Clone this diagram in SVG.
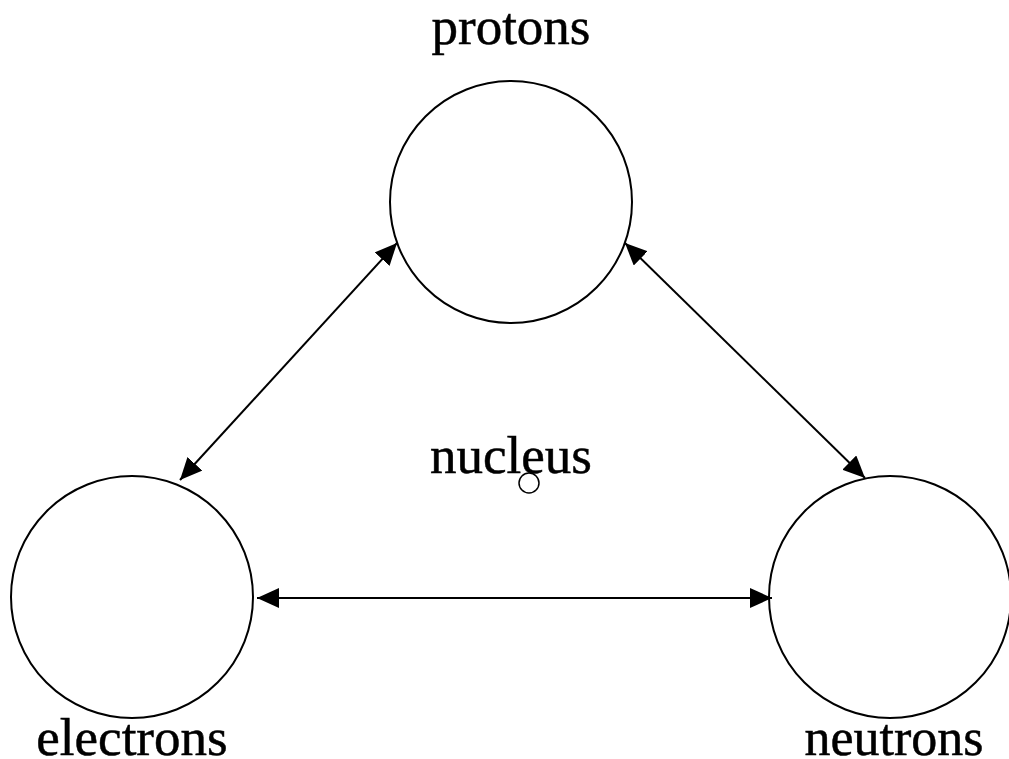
<svg xmlns="http://www.w3.org/2000/svg" width="1009" height="759" viewBox="0 0 1009 759">
<style>
.node{fill:none;stroke:#000;stroke-width:2}
.lbl{font-family:"Liberation Serif","Times New Roman",serif;font-size:53px;fill:#000;stroke:#000;stroke-width:0.5;text-anchor:middle}
.conn{stroke:#000;stroke-width:2;fill:none;marker-start:url(#ah);marker-end:url(#ah)}
</style>
<defs>
<marker id="ah" markerUnits="userSpaceOnUse" markerWidth="24" markerHeight="22" refX="22" refY="10" orient="auto-start-reverse">
<path d="M0,0 L22,10 L0,20 z" fill="#000"/>
</marker>
</defs>
<rect width="1009" height="759" fill="#fff"/>
<g id="protons">
<circle class="node" cx="511" cy="202" r="121"/>
<text class="lbl" x="511" y="44">protons</text>
</g>
<g id="electrons">
<circle class="node" cx="132" cy="597" r="121"/>
<text class="lbl" x="132" y="755">electrons</text>
</g>
<g id="neutrons">
<circle class="node" cx="890" cy="597" r="121"/>
<text class="lbl" x="894" y="755" style="font-size:52px">neutrons</text>
</g>
<g id="nucleus">
<text class="lbl" x="511" y="473">nucleus</text>
<circle cx="529" cy="483" r="10" fill="none" stroke="#000" stroke-width="1.5"/>
</g>
<g id="connectors">
<line class="conn" x1="397" y1="243" x2="180" y2="480"/>
<line class="conn" x1="625" y1="243" x2="865" y2="478"/>
<line class="conn" x1="257" y1="598" x2="772" y2="598"/>
</g>
</svg>
